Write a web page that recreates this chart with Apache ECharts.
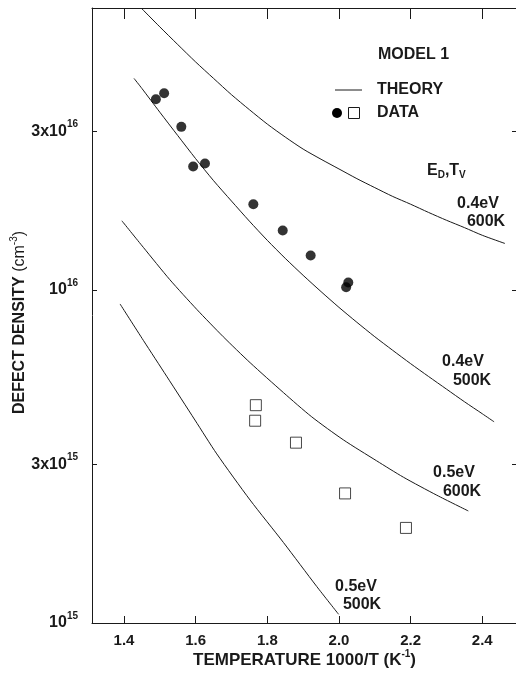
<!DOCTYPE html>
<html>
<head>
<meta charset="utf-8">
<script src="https://cdn.jsdelivr.net/npm/echarts@6/dist/echarts.min.js"></script>
<style>
html,body{margin:0;padding:0;background:#fff;}
#chart{width:516px;height:673px;}
</style>
</head>
<body>
<div id="chart"></div>
<script>
// ---- data ----
const xTicks = [1.4, 1.6, 1.8, 2.0, 2.2, 2.4];
const yTicks = [1e15, 3e15, 1e16, 3e16];
const yTickMant = ['', '3x', '', '3x'];
const yTickExp = ['15', '15', '16', '16'];

// theory curves: [1000/T, density]
const theory04_600 = [[1.449,7.01e16],[1.5,6.17e16],[1.55,5.46e16],[1.6,4.84e16],[1.65,4.32e16],[1.7,3.86e16],[1.75,3.48e16],[1.8,3.15e16],[1.85,2.88e16],[1.9,2.65e16],[1.95,2.47e16],[2.0,2.31e16],[2.05,2.16e16],[2.1,2.03e16],[2.15,1.91e16],[2.2,1.81e16],[2.25,1.71e16],[2.3,1.62e16],[2.35,1.54e16],[2.4,1.46e16],[2.463,1.38e16]];
const theory04_500 = [[1.428,4.32e16],[1.45,4.03e16],[1.5,3.42e16],[1.55,2.91e16],[1.6,2.48e16],[1.65,2.13e16],[1.7,1.85e16],[1.75,1.61e16],[1.8,1.41e16],[1.85,1.245e16],[1.9,1.107e16],[1.95,9.89e15],[2.0,8.87e15],[2.05,8.00e15],[2.1,7.24e15],[2.15,6.59e15],[2.2,6.01e15],[2.25,5.50e15],[2.3,5.04e15],[2.35,4.62e15],[2.4,4.25e15],[2.433,4.02e15]];
const theory05_600 = [[1.394,1.614e16],[1.454,1.343e16],[1.528,1.074e16],[1.603,8.75e15],[1.677,7.24e15],[1.752,6.05e15],[1.845,4.92e15],[1.924,4.16e15],[2.012,3.55e15],[2.105,3.07e15],[2.180,2.74e15],[2.273,2.42e15],[2.361,2.17e15]];
const theory05_500 = [[1.389,9.08e15],[1.454,7.06e15],[1.519,5.51e15],[1.598,4.07e15],[1.659,3.22e15],[1.752,2.34e15],[1.845,1.745e15],[1.938,1.287e15],[1.999,1.062e15]];

// measured data
const dataFilled = [[1.489,3.74e16],[1.512,3.90e16],[1.560,3.09e16],[1.593,2.35e16],[1.626,2.40e16],[1.761,1.81e16],[1.843,1.51e16],[1.921,1.27e16],[2.020,1.019e16],[2.026,1.054e16]];
const dataOpen = [[1.768,4.51e15],[1.766,4.05e15],[1.880,3.48e15],[2.017,2.45e15],[2.187,1.93e15]];

// ---- chart ----
const FONT = '"Liberation Sans", Arial, Helvetica, sans-serif';
const INK = '#1a1a1a';
const chart = echarts.init(document.getElementById('chart'), null, {renderer: 'canvas'});

function yLabel(v) {
  let best = 0;
  for (let i = 1; i < yTicks.length; i++) {
    if (Math.abs(Math.log10(yTicks[i]) - Math.log10(v)) < Math.abs(Math.log10(yTicks[best]) - Math.log10(v))) best = i;
  }
  return '{n|' + yTickMant[best] + '10}{s|' + yTickExp[best] + '}';
}

const supRich = {
  n: {fontFamily: FONT, fontSize: 16, fontWeight: 'bold', color: INK, lineHeight: 16},
  s: {fontFamily: FONT, fontSize: 10, fontWeight: 'bold', color: INK, lineHeight: 10, padding: [0, 0, 13, 0]}
};

const lineSeries = (name, data) => ({
  name, type: 'line', data, showSymbol: false, symbol: 'none', smooth: 0.25,
  lineStyle: {color: INK, width: 1}, silent: true, z: 2
});

const option = {
  animation: false,
  backgroundColor: '#fff',
  grid: {left: 92, top: 8, right: -1, bottom: 50, containLabel: false, outerBoundsMode: 'none'},
  xAxis: [
    {
      type: 'value', min: 1.3107, max: 2.4969, position: 'bottom',
      axisLine: {lineStyle: {color: INK, width: 1}},
      axisTick: {inside: true, length: 7, customValues: xTicks, lineStyle: {color: INK}},
      axisLabel: {customValues: xTicks, formatter: v => v.toFixed(1), margin: 10,
        fontFamily: FONT, fontSize: 15, fontWeight: 'bold', color: INK},
      splitLine: {show: false},
      name: '{t|TEMPERATURE 1000/T (K}{s|-1}{t|)}',
      nameLocation: 'middle', nameGap: 28, nameMoveOverlap: false,
      nameTextStyle: {rich: {
        t: {fontFamily: FONT, fontSize: 17, fontWeight: 'bold', color: INK, lineHeight: 18},
        s: {fontFamily: FONT, fontSize: 10, fontWeight: 'bold', color: INK, lineHeight: 10, padding: [0, 0, 12, 0]}
      }}
    },
    {
      type: 'value', min: 1.3107, max: 2.4969, position: 'top',
      axisLine: {lineStyle: {color: INK, width: 1}},
      axisTick: {inside: true, length: 11, customValues: xTicks, lineStyle: {color: INK}},
      axisLabel: {show: false},
      splitLine: {show: false}
    }
  ],
  yAxis: [
    {
      type: 'log', logBase: 10, min: 1e15, max: 7.03e16, position: 'left',
      axisLine: {show: true, lineStyle: {color: INK, width: 1}},
      axisTick: {show: true, inside: true, length: 5, customValues: yTicks, lineStyle: {color: INK}},
      axisLabel: {customValues: yTicks, formatter: yLabel, margin: 14, rich: supRich},
      minorTick: {show: false},
      splitLine: {show: false},
      name: '{t|DEFECT DENSITY }{c|(cm}{s|-3}{c|)}',
      nameLocation: 'middle', nameGap: 63, nameMoveOverlap: false,
      nameTextStyle: {padding: [0, 14, 0, 0], rich: {
        t: {fontFamily: FONT, fontSize: 16, fontWeight: 'bold', color: INK, lineHeight: 18},
        c: {fontFamily: FONT, fontSize: 16, fontWeight: 'normal', color: INK, lineHeight: 18},
        s: {fontFamily: FONT, fontSize: 10, color: INK, lineHeight: 10, padding: [0, 0, 12, 0]}
      }}
    },
    {
      type: 'log', logBase: 10, min: 1e15, max: 7.03e16, position: 'right',
      axisLine: {show: true, lineStyle: {color: INK, width: 1}},
      axisTick: {show: true, inside: true, length: 5, customValues: yTicks, lineStyle: {color: INK}},
      axisLabel: {show: false},
      splitLine: {show: false}
    }
  ],
  series: [
    lineSeries('0.4eV 600K', theory04_600),
    lineSeries('0.4eV 500K', theory04_500),
    lineSeries('0.5eV 600K', theory05_600),
    lineSeries('0.5eV 500K', theory05_500),
    {
      name: 'DATA filled', type: 'scatter', data: dataFilled, symbol: 'circle', symbolSize: 10,
      itemStyle: {color: '#000'}, z: 3
    },
    {
      name: 'DATA open', type: 'scatter', data: dataOpen, symbol: 'rect', symbolSize: 11,
      itemStyle: {color: '#fff', borderColor: INK, borderWidth: 1}, z: 3
    }
  ],
  graphic: [
    {type: 'text', left: 378, top: 47, style: {text: 'MODEL 1', font: 'bold 16px ' + FONT, fill: INK}},
    {type: 'line', shape: {x1: 335, y1: 90, x2: 362, y2: 90}, style: {stroke: INK, lineWidth: 1}},
    {type: 'text', left: 377, top: 82, style: {text: 'THEORY', font: 'bold 16px ' + FONT, fill: INK}},
    {type: 'circle', shape: {cx: 337, cy: 113, r: 5}, style: {fill: '#000'}},
    {type: 'rect', shape: {x: 348.5, y: 107.5, width: 11, height: 11}, style: {fill: '#fff', stroke: INK, lineWidth: 1}},
    {type: 'text', left: 377, top: 105, style: {text: 'DATA', font: 'bold 16px ' + FONT, fill: INK}},
    {type: 'text', left: 427, top: 161, style: {
      text: '{n|E}{b|D}{n|,T}{b|V}',
      rich: {
        n: {fontFamily: FONT, fontSize: 16, fontWeight: 'bold', fill: INK, lineHeight: 18},
        b: {fontFamily: FONT, fontSize: 10, fontWeight: 'bold', fill: INK, lineHeight: 10, padding: [9, 0, 0, 0]}
      }}},
    {type: 'text', x: 478, y: 204, style: {text: '0.4eV', font: 'bold 16px ' + FONT, fill: INK, textAlign: 'center', textVerticalAlign: 'middle'}},
    {type: 'text', x: 486, y: 222, style: {text: '600K', font: 'bold 16px ' + FONT, fill: INK, textAlign: 'center', textVerticalAlign: 'middle'}},
    {type: 'text', x: 463, y: 362, style: {text: '0.4eV', font: 'bold 16px ' + FONT, fill: INK, textAlign: 'center', textVerticalAlign: 'middle'}},
    {type: 'text', x: 472, y: 381, style: {text: '500K', font: 'bold 16px ' + FONT, fill: INK, textAlign: 'center', textVerticalAlign: 'middle'}},
    {type: 'text', x: 454, y: 473, style: {text: '0.5eV', font: 'bold 16px ' + FONT, fill: INK, textAlign: 'center', textVerticalAlign: 'middle'}},
    {type: 'text', x: 462, y: 492, style: {text: '600K', font: 'bold 16px ' + FONT, fill: INK, textAlign: 'center', textVerticalAlign: 'middle'}},
    {type: 'text', x: 356, y: 587, style: {text: '0.5eV', font: 'bold 16px ' + FONT, fill: INK, textAlign: 'center', textVerticalAlign: 'middle'}},
    {type: 'text', x: 362, y: 605, style: {text: '500K', font: 'bold 16px ' + FONT, fill: INK, textAlign: 'center', textVerticalAlign: 'middle'}}
  ]
};
chart.setOption(option);
</script>
</body>
</html>
